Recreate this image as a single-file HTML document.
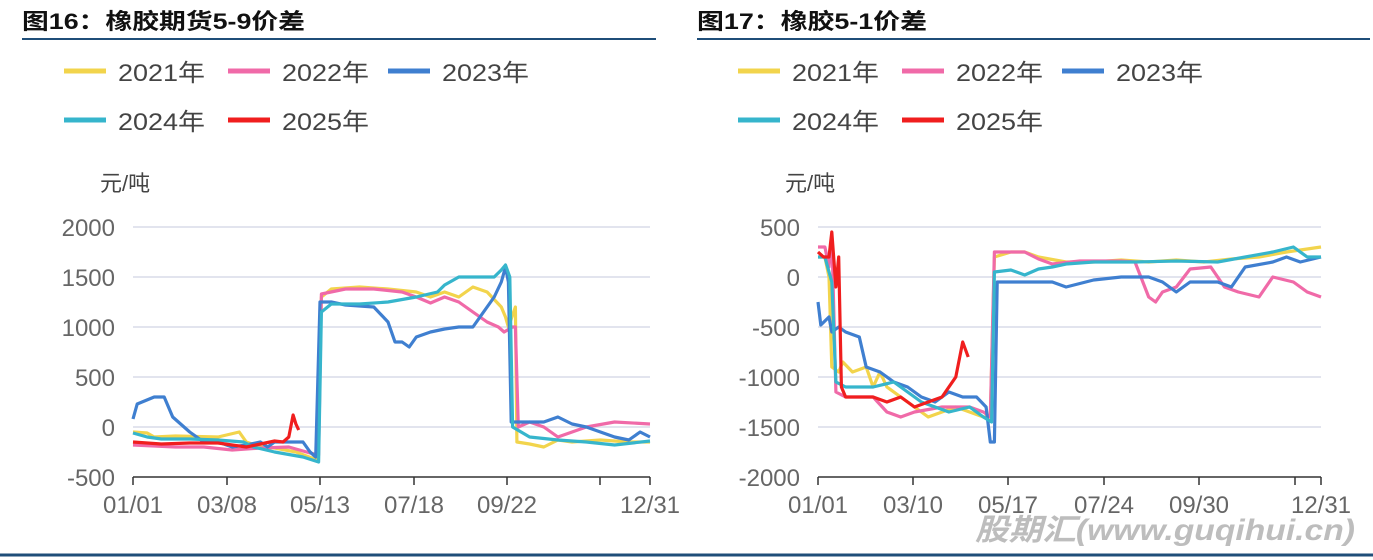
<!DOCTYPE html>
<html><head><meta charset="utf-8"><style>
body{margin:0;background:#fff;width:1373px;height:560px;overflow:hidden}
svg{display:block}
</style></head><body>
<svg id="s" width="1373" height="560" xmlns="http://www.w3.org/2000/svg" font-family="Liberation Sans, Noto Sans CJK SC, sans-serif">
<text x="22" y="29" font-size="22" font-weight="bold" fill="#111" textLength="283" lengthAdjust="spacingAndGlyphs" font-family="Liberation Sans, Noto Sans CJK SC, sans-serif">图16：橡胶期货5-9价差</text>
<text x="697" y="29" font-size="22" font-weight="bold" fill="#111" textLength="230" lengthAdjust="spacingAndGlyphs" font-family="Liberation Sans, Noto Sans CJK SC, sans-serif">图17：橡胶5-1价差</text>
<line x1="22" y1="39" x2="656" y2="39" stroke="#1f4e79" stroke-width="2"/>
<line x1="697" y1="39" x2="1370" y2="39" stroke="#1f4e79" stroke-width="2"/>
<line x1="0" y1="555" x2="1373" y2="555" stroke="#1f4e79" stroke-width="3"/>
<g id="g"></g>
<text x="975" y="540" font-size="30" font-weight="bold" font-style="italic" fill="#bdbdbd" textLength="380" lengthAdjust="spacingAndGlyphs" font-family="Liberation Sans, Noto Sans CJK SC, sans-serif">股期汇(www.guqihui.cn)</text>
</svg>
<script>
const g=document.getElementById('g');let h='';
const C=['#f2d44c','#f06aa8','#3f7fd0','#36b5cc','#f01e1e'];
const N=['2021年','2022年','2023年','2024年','2025年'];
function legend(ox){
 const pos=[[64,71],[228,71],[388,71],[64,120],[228,120]];
 pos.forEach((p,i)=>{h+=`<line x1="${ox+p[0]}" y1="${p[1]}" x2="${ox+p[0]+42}" y2="${p[1]}" stroke="${C[i]}" stroke-width="5"/>`;
 h+=`<text x="${ox+p[0]+54}" y="${p[1]+10}" font-size="24" fill="#444" textLength="87" lengthAdjust="spacingAndGlyphs">${N[i]}</text>`;});
}
function chart(o){
 h+=`<text x="${o.x0-33}" y="191" font-size="22" fill="#444">元/吨</text>`;
 o.ticks.forEach((v,i)=>{const y=o.y0-v*0.1;
  if(i>0)h+=`<line x1="${o.x0}" y1="${y}" x2="${o.x1}" y2="${y}" stroke="#d9dce8" stroke-width="1.5"/>`;
  h+=`<text x="${o.x0-18}" y="${y+9}" font-size="24" fill="#666" text-anchor="end">${v}</text>`;});
 const ya=o.y0-o.ticks[0]*0.1;
 h+=`<line x1="${o.x0}" y1="${ya}" x2="${o.x1}" y2="${ya}" stroke="#333" stroke-width="1.5"/>`;
 o.xt.forEach((t,i)=>{const x=o.xs[i];h+=`<line x1="${x}" y1="${ya}" x2="${x}" y2="${ya+8}" stroke="#333" stroke-width="1.5"/>`;
  if(t)h+=`<text x="${x}" y="${ya+36}" font-size="24" fill="#666" text-anchor="middle">${t}</text>`;});
 o.s.forEach((d,i)=>{let p=[];for(let k=0;k<d.length;k+=2)p.push((o.x0+d[k]*(o.x1-o.x0)/365).toFixed(1)+','+(o.y0-d[k+1]*0.1).toFixed(1));
  h+=`<polyline points="${p.join(' ')}" fill="none" stroke="${C[i]}" stroke-width="3.2" stroke-linejoin="round"/>`;});
}
legend(0);legend(674);
chart({x0:133,x1:650,y0:427,ticks:[-500,0,500,1000,1500,2000],xt:['01/01','03/08','05/13','07/18','09/22','','12/31'],xs:[133,227,320,414,507,600,650],
s:[
[0,-50,10,-60,15,-100,30,-90,60,-100,75,-50,80,-150,90,-200,100,-210,115,-250,130,-330,133,1300,140,1380,160,1400,180,1380,200,1350,210,1300,220,1350,230,1300,240,1400,250,1350,260,1200,263,1100,265,1000,270,1200,271,-150,280,-170,290,-200,300,-130,310,-150,330,-130,350,-150,365,-150],
[0,-180,30,-200,50,-200,70,-230,90,-210,110,-200,125,-260,131,-280,133,1330,150,1380,170,1380,190,1350,200,1300,210,1240,220,1300,230,1250,240,1150,250,1050,258,1000,262,950,268,1000,270,1000,272,0,280,50,290,0,300,-100,310,-50,320,0,340,50,365,30],
[0,80,3,230,15,300,22,300,28,100,40,-50,50,-150,60,-150,70,-200,80,-180,90,-150,95,-200,100,-150,110,-150,120,-150,125,-250,129,-300,132,1250,140,1250,150,1220,170,1200,180,1050,185,850,190,850,195,800,200,900,210,950,220,980,230,1000,240,1000,245,1100,255,1300,260,1450,263,1600,265,1450,267,50,280,50,290,50,300,100,310,30,320,0,340,-100,350,-130,358,-50,365,-100],
[0,-60,10,-100,20,-120,40,-120,60,-130,78,-150,85,-200,100,-250,120,-300,131,-350,133,1150,140,1230,160,1230,180,1250,200,1300,215,1350,220,1420,230,1500,240,1500,255,1500,260,1570,263,1620,266,1500,268,0,280,-100,300,-130,320,-150,340,-180,365,-140],
[0,-150,20,-170,40,-160,60,-160,70,-180,80,-200,90,-170,100,-140,106,-150,110,-100,113,120,115,30,117,-30]
]});
chart({x0:818,x1:1321,y0:277,ticks:[-2000,-1500,-1000,-500,0,500],xt:['01/01','03/10','05/17','07/24','09/30','','12/31'],xs:[818,913,1008,1104,1199,1295,1321],
s:[
[0,200,5,200,8,0,10,-900,15,-950,18,-850,25,-950,35,-900,40,-1100,45,-950,50,-1100,60,-1200,70,-1300,80,-1400,90,-1350,100,-1300,110,-1350,120,-1400,125,-1400,128,200,140,250,150,250,160,200,180,150,200,150,220,170,240,150,260,170,280,150,300,180,320,200,340,250,365,300],
[0,300,5,300,8,100,10,430,13,-1150,20,-1200,40,-1200,50,-1350,60,-1400,70,-1350,90,-1300,110,-1300,120,-1350,125,-1400,128,250,140,250,150,250,160,180,170,130,190,160,220,160,230,150,240,-200,245,-250,250,-150,260,-100,270,80,285,100,295,-100,305,-150,320,-200,330,0,345,-50,355,-150,365,-200],
[0,-250,2,-480,8,-400,10,-550,15,-500,20,-550,30,-600,35,-900,45,-950,55,-1050,65,-1100,75,-1200,85,-1250,95,-1150,105,-1200,115,-1200,122,-1300,125,-1650,128,-1650,130,-50,150,-50,170,-50,180,-100,200,-30,220,0,240,0,250,-50,260,-150,270,-50,290,-50,300,-100,310,100,330,150,340,200,350,150,365,200],
[0,200,5,200,10,-50,13,-1050,20,-1100,40,-1100,55,-1050,65,-1150,75,-1250,85,-1300,95,-1350,110,-1300,120,-1400,126,-1450,128,50,140,70,150,20,160,80,170,100,180,130,200,150,230,150,260,160,290,150,310,200,330,250,345,300,355,200,365,200],
[0,250,4,200,8,200,10,450,13,-100,15,200,17,-1100,20,-1200,40,-1200,50,-1250,60,-1200,70,-1300,80,-1250,90,-1200,100,-1000,105,-650,109,-800]
]});
g.innerHTML=h;
</script>
</body></html>
